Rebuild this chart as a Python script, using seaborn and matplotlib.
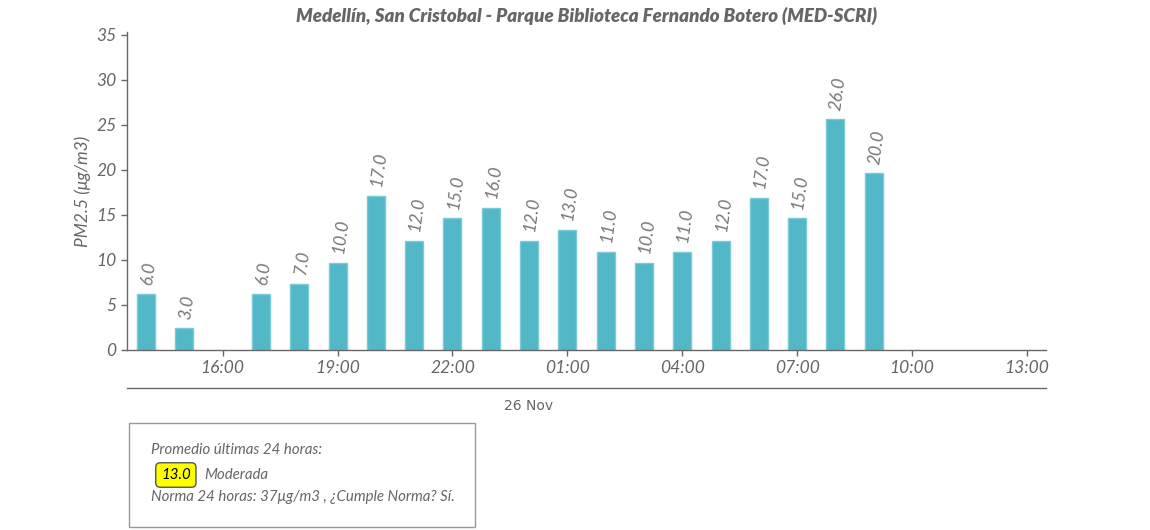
import matplotlib
matplotlib.use("Agg")
import matplotlib.pyplot as plt
from matplotlib.patches import Rectangle
import seaborn as sns
import pandas as pd

# hour offsets relative to 26 Nov 00:00 (negative = 25 Nov)
hours = [-10, -9, -7, -6, -5, -4, -3, -2, -1, 0, 1, 2, 3, 4, 5, 6, 7, 8, 9]
pm25 = [6.2, 2.4, 6.2, 7.3, 9.7, 17.1, 12.1, 14.6, 15.8, 12.1, 13.3, 10.9, 9.7,
        10.9, 12.1, 16.9, 14.6, 25.6, 19.6]
labels = ["6.0", "3.0", "6.0", "7.0", "10.0", "17.0", "12.0", "15.0", "16.0", "12.0",
          "13.0", "11.0", "10.0", "11.0", "12.0", "17.0", "15.0", "26.0", "20.0"]
tick_hours = [-8, -5, -2, 1, 4, 7, 10, 13]
y_ticks = [0, 5, 10, 15, 20, 25, 30, 35]

titulo = "Medellín, San Cristobal - Parque Biblioteca Fernando Botero (MED-SCRI)"
promedio = "13.0"
categoria = "Moderada"

sns.set_theme(style="white")
plt.rcParams["font.family"] = ["Lato", "DejaVu Sans"]

grey = "#666666"
df = pd.DataFrame({"hora": hours, "pm": pm25})

fig = plt.figure(figsize=(11.5, 5.3), dpi=100)
ax = fig.add_axes([127 / 1150, 180 / 530, 919 / 1150, 318 / 530])

sns.barplot(data=df, x="hora", y="pm", native_scale=True, width=0.47,
            color="#52b7c6", saturation=1, edgecolor="#7acbd6", linewidth=1, ax=ax)

for h, v, t in zip(hours, pm25, labels):
    ax.annotate(t, (h, v), xytext=(2, 6), textcoords="offset points",
                rotation=82, ha="center", va="bottom", fontsize=12.5,
                style="italic", color="#777777")

ax.set_xlim(-10.5, 13.5)
ax.set_ylim(0, 35.3)
ax.set_xticks(tick_hours)
ax.set_xticklabels(["%02d:00" % (h % 24) for h in tick_hours])
ax.set_yticks(y_ticks)
ax.set_yticklabels([str(v) for v in y_ticks])
ax.tick_params(axis="both", colors=grey, labelsize=12.5, length=4, width=1,
               direction="out", bottom=True, left=True)
for lab in ax.get_xticklabels() + ax.get_yticklabels():
    lab.set_style("italic")
    lab.set_color(grey)
ax.set_xlabel("")
ax.set_ylabel("PM2.5 (μg/m3)", fontsize=12.5, style="italic", color=grey, labelpad=4)
for side in ["top", "right"]:
    ax.spines[side].set_visible(False)
for side in ["left", "bottom"]:
    ax.spines[side].set_color(grey)
    ax.spines[side].set_linewidth(1)

ax.set_title(titulo, fontsize=13.5, fontweight="heavy", style="italic", color=grey, pad=7)

# date axis below
sec = ax.secondary_xaxis(-0.12)
sec.set_xticks([0])
sec.set_xticklabels(["26 Nov"])
sec.tick_params(length=0, labelsize=10, colors=grey, pad=8)
for lab in sec.get_xticklabels():
    lab.set_family("DejaVu Sans")
sec.spines["bottom"].set_color(grey)
sec.spines["bottom"].set_linewidth(1)

# info box
fig.patches.append(Rectangle((129 / 1150, 3 / 530), 346 / 1150, 104 / 530,
                             transform=fig.transFigure, fill=False,
                             edgecolor="#999999", linewidth=1))
fs = 10.8
fig.text(151 / 1150, 1 - 450 / 530, "Promedio últimas 24 horas:", fontsize=fs,
         style="italic", color=grey, va="center")
fig.text(161 / 1150, 1 - 475 / 530, promedio, fontsize=fs, style="italic",
         color="black", va="center",
         bbox=dict(boxstyle="round,pad=0.35,rounding_size=0.3", fc="#ffff00", ec="#555555", lw=1))
fig.text(204 / 1150, 1 - 475 / 530, categoria, fontsize=fs, style="italic",
         color=grey, va="center")
fig.text(151 / 1150, 1 - 497 / 530, "Norma 24 horas: 37μg/m3 , ¿Cumple Norma? Sí.",
         fontsize=fs, style="italic", color=grey, va="center")

fig.savefig("out.png", dpi=100)
